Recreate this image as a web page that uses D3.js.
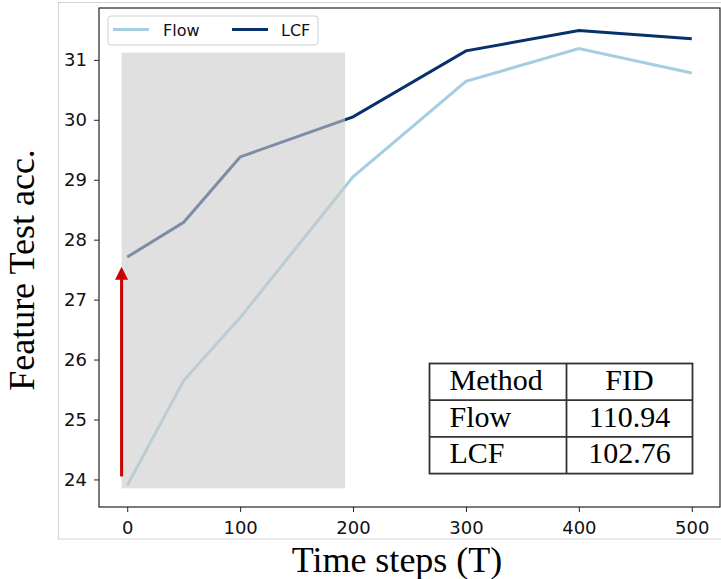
<!DOCTYPE html>
<html>
<head>
<meta charset="utf-8">
<script src="https://cdn.jsdelivr.net/npm/d3@7"></script>
<style>
  html, body { margin: 0; padding: 0; background: #fff; }
  svg { display: block; }
</style>
</head>
<body>
<svg id="chart" width="721" height="579"></svg>
<script>
const steps = [0, 50, 100, 200, 300, 400, 500];
const flowAcc = [23.9, 25.65, 26.7, 29.05, 30.64, 31.19, 30.78];
const lcfAcc = [27.71, 28.29, 29.38, 30.05, 31.15, 31.49, 31.35];
const seriesNames = ["Flow", "LCF"];
const xTicks = [0, 100, 200, 300, 400, 500];
const yTicks = [24, 25, 26, 27, 28, 29, 30, 31];
const shadeX = [-5, 193];
const shadeY = [23.85, 31.12];
const arrowX = -5;
const arrowY = [24.05, 27.55];
const tableRows = [["Method", "FID"], ["Flow", "110.94"], ["LCF", "102.76"]];

const svg = d3.select("#chart");
const m = { left: 99, top: 8, right: 720, bottom: 507 };

const x = d3.scaleLinear().domain([-25, 525]).range([m.left, m.right]);
const y = d3.scaleLinear().domain([23.54, 31.865]).range([m.bottom, m.top]);

// outer light frame
svg.append("rect").attr("x", 58.5).attr("y", 2.5).attr("width", 700).attr("height", 536.5)
  .attr("fill", "none").attr("stroke", "#d4d4d4").attr("stroke-width", 1);

const colors = { Flow: "#a6cee3", LCF: "#08306b" };
const line = d3.line().x(d => x(d[0])).y(d => y(d[1]));

const seriesData = [
  { name: "Flow", values: steps.map((s, i) => [s, flowAcc[i]]) },
  { name: "LCF", values: steps.map((s, i) => [s, lcfAcc[i]]) }
];

svg.selectAll("path.series").data(seriesData).enter().append("path")
  .attr("class", "series")
  .attr("d", d => line(d.values))
  .attr("fill", "none")
  .attr("stroke", d => colors[d.name])
  .attr("stroke-width", 3);

// shaded region on top
svg.append("rect")
  .attr("x", x(shadeX[0])).attr("width", x(shadeX[1]) - x(shadeX[0]))
  .attr("y", y(shadeY[1])).attr("height", y(shadeY[0]) - y(shadeY[1]))
  .attr("fill", "#cbcbcb").attr("fill-opacity", 0.6);

// red arrow
const ax = x(arrowX);
const headLen = 13, headW = 13;
svg.append("line")
  .attr("x1", ax).attr("x2", ax)
  .attr("y1", y(arrowY[0])).attr("y2", y(arrowY[1]) + headLen - 1)
  .attr("stroke", "#cc0000").attr("stroke-width", 3);
svg.append("path")
  .attr("d", `M${ax},${y(arrowY[1])} L${ax - headW / 2},${y(arrowY[1]) + headLen} L${ax + headW / 2},${y(arrowY[1]) + headLen} Z`)
  .attr("fill", "#cc0000");

// axes
const xAxis = svg.append("g").attr("transform", `translate(0,${m.bottom})`)
  .call(d3.axisBottom(x).tickValues(xTicks).tickSize(5).tickSizeOuter(0).tickPadding(9));
const yAxis = svg.append("g").attr("transform", `translate(${m.left},0)`)
  .call(d3.axisLeft(y).tickValues(yTicks).tickSize(5).tickSizeOuter(0).tickPadding(7));
[xAxis, yAxis].forEach(g => {
  g.select(".domain").remove();
  g.selectAll(".tick line").attr("stroke", "#222").attr("stroke-width", 1);
  g.selectAll(".tick text").attr("font-family", "DejaVu Sans").attr("font-size", 18).attr("fill", "#111");
});

// spines
svg.append("rect").attr("x", m.left).attr("y", m.top)
  .attr("width", m.right - m.left).attr("height", m.bottom - m.top)
  .attr("fill", "none").attr("stroke", "#222").attr("stroke-width", 1.2);

// legend
const lg = svg.append("g");
lg.append("rect").attr("x", 108).attr("y", 16).attr("width", 210).attr("height", 29).attr("rx", 3)
  .attr("fill", "#fff").attr("fill-opacity", 0.8).attr("stroke", "#cfcfcf").attr("stroke-width", 1);
const legPos = [{ lx: 113, tx: 163 }, { lx: 232, tx: 281 }];
seriesNames.forEach((n, i) => {
  lg.append("line").attr("x1", legPos[i].lx).attr("x2", legPos[i].lx + 36)
    .attr("y1", 29.5).attr("y2", 29.5).attr("stroke", colors[n]).attr("stroke-width", 3);
  lg.append("text").attr("x", legPos[i].tx).attr("y", 35.5).text(n)
    .attr("font-family", "DejaVu Sans").attr("font-size", 16).attr("fill", "#111");
});

// axis titles
svg.append("text").attr("x", 397).attr("y", 571.5).attr("text-anchor", "middle")
  .attr("font-family", "Liberation Serif").attr("font-size", 36).attr("fill", "#000")
  .text("Time steps (T)");
svg.append("text").attr("transform", "translate(34,270) rotate(-90)").attr("text-anchor", "middle")
  .attr("font-family", "Liberation Serif").attr("font-size", 36).attr("fill", "#000")
  .text("Feature Test acc.");

// table
const tb = { x0: 429.5, x1: 566.5, x2: 692.5, y0: 363.5, rowH: 36.7 };
const tg = svg.append("g");
tg.append("rect").attr("x", tb.x0).attr("y", tb.y0).attr("width", tb.x2 - tb.x0)
  .attr("height", tb.rowH * tableRows.length).attr("fill", "#fff");
tableRows.forEach((r, i) => {
  const base = tb.y0 + tb.rowH * i + 26.5;
  tg.append("text").attr("x", 449.5).attr("y", base).text(r[0])
    .attr("font-family", "Liberation Serif").attr("font-size", 30).attr("fill", "#000");
  tg.append("text").attr("x", (tb.x1 + tb.x2) / 2).attr("y", base).attr("text-anchor", "middle").text(r[1])
    .attr("font-family", "Liberation Serif").attr("font-size", 30).attr("fill", "#000");
});
const bs = "#333";
tg.append("rect").attr("x", tb.x0).attr("y", tb.y0).attr("width", tb.x2 - tb.x0)
  .attr("height", tb.rowH * tableRows.length).attr("fill", "none").attr("stroke", bs).attr("stroke-width", 1.8);
tg.append("line").attr("x1", tb.x1).attr("x2", tb.x1).attr("y1", tb.y0).attr("y2", tb.y0 + tb.rowH * tableRows.length)
  .attr("stroke", bs).attr("stroke-width", 1.8);
for (let i = 1; i < tableRows.length; i++) {
  tg.append("line").attr("x1", tb.x0).attr("x2", tb.x2)
    .attr("y1", tb.y0 + tb.rowH * i).attr("y2", tb.y0 + tb.rowH * i)
    .attr("stroke", bs).attr("stroke-width", 1.8);
}
</script>
</body>
</html>
